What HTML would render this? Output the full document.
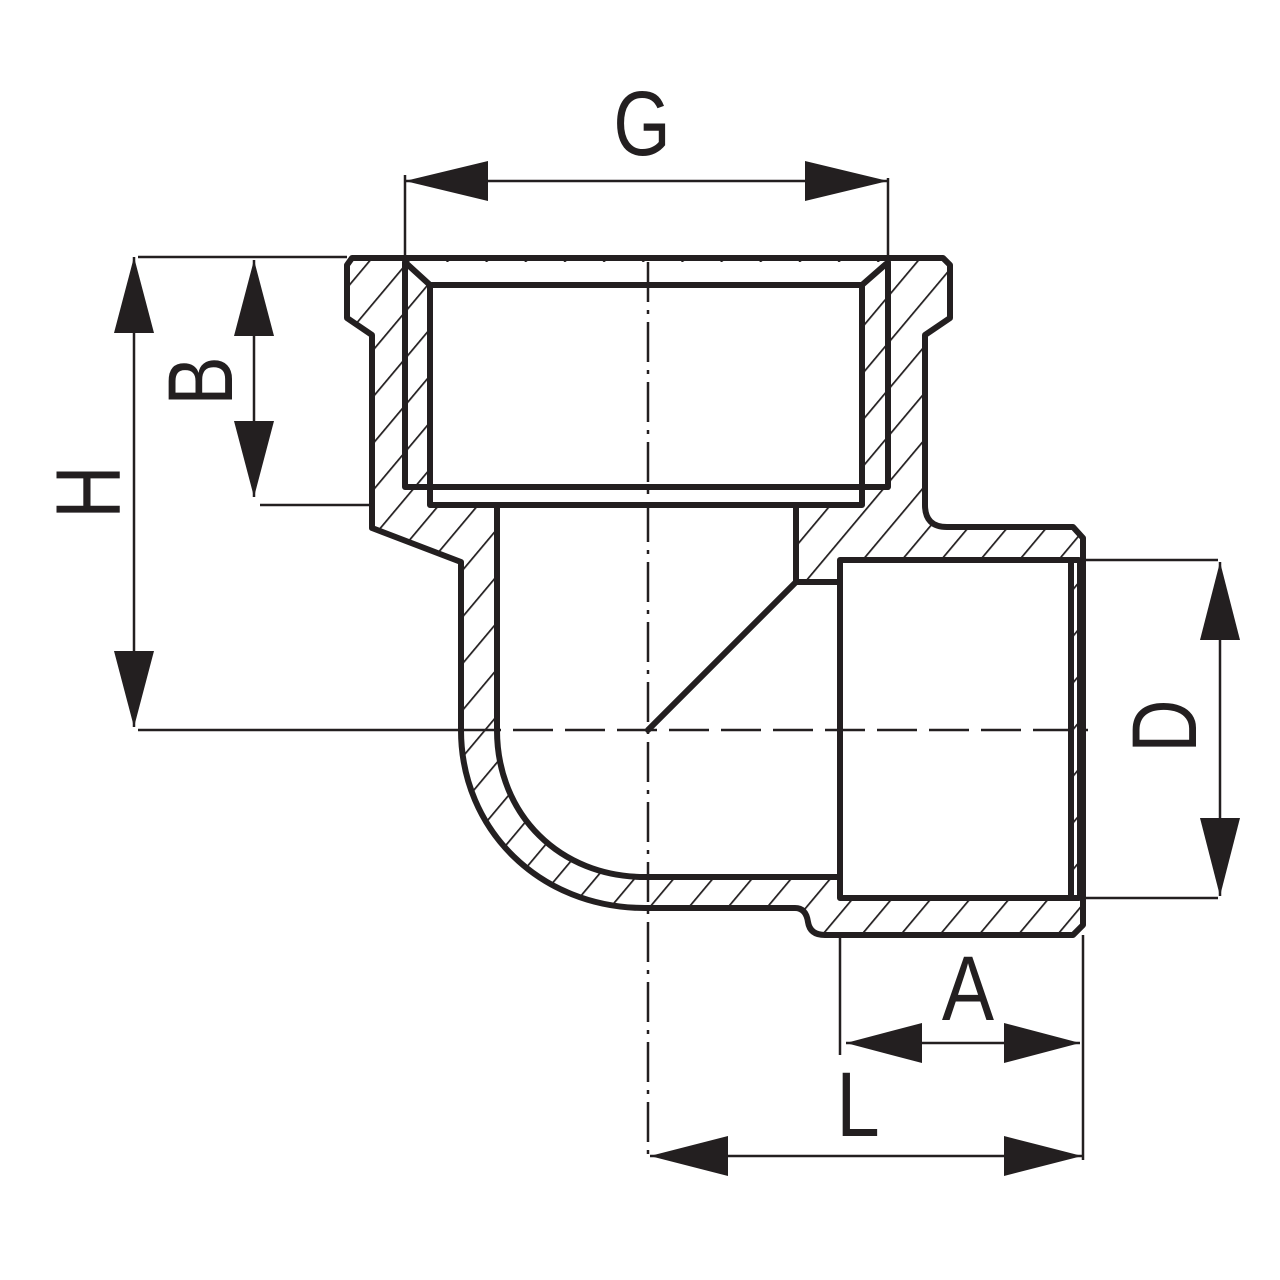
<!DOCTYPE html>
<html><head><meta charset="utf-8"><style>
html,body{margin:0;padding:0;background:#fff;}
svg{display:block;}
text{font-family:"Liberation Sans",sans-serif;fill:#231f20;}
</style></head><body>
<svg width="1280" height="1280" viewBox="0 0 1280 1280" xmlns="http://www.w3.org/2000/svg">
<defs>
<pattern id="h" patternUnits="userSpaceOnUse" width="30" height="30" patternTransform="rotate(40)">
<line x1="0" y1="0" x2="0" y2="30" stroke="#231f20" stroke-width="3.5"/>
</pattern>
</defs>
<g stroke="#231f20" stroke-linejoin="round" stroke-linecap="round">
<path d="M352,258 L943,258 L950,265 L950,318 L925,335 L925,505 Q925,527 947,527 L1073,527 L1083,538 L1083,925 L1073,935 L825,935 Q810,935 808,922 Q806,908 795,908 L645,908 C540,908 461,830 461,730 L461,562 L372,528 L372,335 L347,318 L347,265 Z" fill="url(#h)" stroke-width="6"/>
<path d="M405,262 L430,285 L862,285 L888,262 Z" fill="#fff" stroke="none"/>
<rect x="430" y="285" width="432" height="220" fill="#fff" stroke-width="6"/>
<path d="M497,505 L796,505 L796,582 L840,582 L840,877 L645,877 C560,877 497,815 497,730 Z" fill="#fff" stroke-width="6"/>
<rect x="840" y="560" width="231" height="338" fill="#fff" stroke-width="6"/>
<path d="M405,262 L405,487 L888,487 L888,262" fill="none" stroke-width="6"/>
<path d="M407,264 L430,285 M886,264 L862,285" fill="none" stroke-width="6"/>
<line x1="1071" y1="560" x2="1079" y2="560" stroke-width="6"/>
<line x1="1079" y1="560" x2="1079" y2="898" stroke-width="4"/>
<line x1="1071" y1="898" x2="1079" y2="898" stroke-width="6"/>
<line x1="796" y1="582" x2="648" y2="730" stroke-width="6"/>
</g>
<g stroke="#231f20" stroke-width="2.5" fill="none">
<line x1="648" y1="262" x2="648" y2="1160" stroke-dasharray="40,8,4,8"/>
<line x1="461" y1="730" x2="1088" y2="730" stroke-dasharray="40,12"/>
<line x1="138" y1="730" x2="461" y2="730"/>
<line x1="405" y1="175" x2="405" y2="262"/>
<line x1="888" y1="178" x2="888" y2="262"/>
<line x1="138" y1="257" x2="347" y2="257"/>
<line x1="260" y1="505" x2="372" y2="505"/>
<line x1="1083" y1="560" x2="1218" y2="560"/>
<line x1="1083" y1="898" x2="1218" y2="898"/>
<line x1="840" y1="935" x2="840" y2="1055"/>
<line x1="1083" y1="935" x2="1083" y2="1160"/>
<line x1="405" y1="181" x2="888" y2="181"/>
<line x1="134" y1="257" x2="134" y2="727"/>
<line x1="254" y1="260" x2="254" y2="497"/>
<line x1="1220" y1="562" x2="1220" y2="896"/>
<line x1="846" y1="1043" x2="1080" y2="1043"/>
<line x1="650" y1="1156" x2="1082" y2="1156"/>
</g>
<g fill="#231f20">
<polygon points="405,181 488,161 488,201"/>
<polygon points="888,181 805,161 805,201"/>
<polygon points="134,257 114,333 154,333"/>
<polygon points="134,727 114,651 154,651"/>
<polygon points="254,260 234,336 274,336"/>
<polygon points="254,497 234,421 274,421"/>
<polygon points="1220,562 1200,640 1240,640"/>
<polygon points="1220,896 1200,818 1240,818"/>
<polygon points="846,1043 922,1023 922,1063"/>
<polygon points="1080,1043 1004,1023 1004,1063"/>
<polygon points="650,1156 728,1136 728,1176"/>
<polygon points="1082,1156 1004,1136 1004,1176"/>
</g>
<g font-size="92">
<text x="642" y="155" text-anchor="middle" transform="translate(642,0) scale(0.8,1) translate(-642,0)">G</text>
<text x="0" y="0" text-anchor="middle" transform="translate(120,492) rotate(-90) scale(0.8,1)">H</text>
<text x="0" y="0" text-anchor="middle" transform="translate(232,381) rotate(-90) scale(0.8,1)">B</text>
<text x="0" y="0" text-anchor="middle" transform="translate(1196,726) rotate(-90) scale(0.8,1)">D</text>
<text x="968" y="1020" text-anchor="middle" transform="translate(968,0) scale(0.85,1) translate(-968,0)">A</text>
<text x="858" y="1136" text-anchor="middle" transform="translate(858,0) scale(0.85,1) translate(-858,0)">L</text>
</g>
</svg>
</body></html>
